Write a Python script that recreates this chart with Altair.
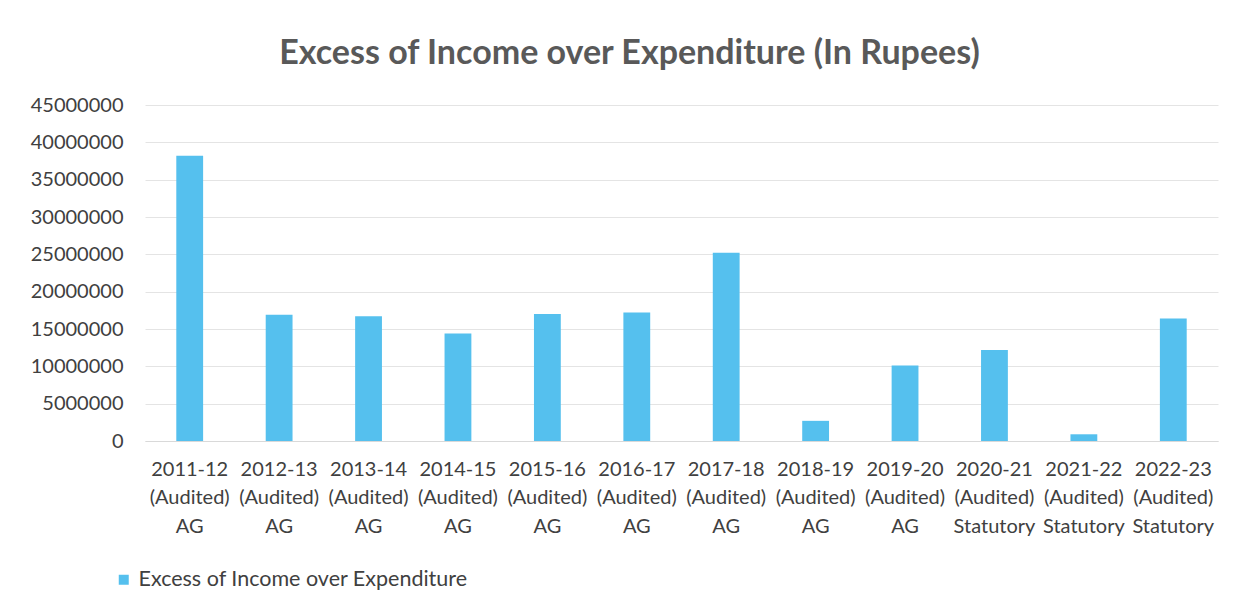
import altair as alt
import pandas as pd

years = ["2011-12", "2012-13", "2013-14", "2014-15", "2015-16", "2016-17",
         "2017-18", "2018-19", "2019-20", "2020-21", "2021-22", "2022-23"]
status = ["(Audited)"] * 12
auditor = ["AG", "AG", "AG", "AG", "AG", "AG", "AG", "AG", "AG",
           "Statutory", "Statutory", "Statutory"]
values = [38200000, 16900000, 16700000, 14400000, 17000000, 17200000,
          25200000, 2700000, 10100000, 12200000, 900000, 16400000]
series_name = "Excess of Income over Expenditure"

df = pd.DataFrame({
    "cat": [f"{y}|{s}|{a}" for y, s, a in zip(years, status, auditor)],
    "value": values,
    "series": [series_name] * len(values),
})

FONT = "Lato"
TEXT = "#404040"

chart = alt.Chart(df).mark_bar(color="#55C0EE").encode(
    x=alt.X("cat:N", sort=None, title=None,
            scale=alt.Scale(paddingInner=0.7, paddingOuter=0.35),
            axis=alt.Axis(labelAngle=0, labelExpr="split(datum.label, '|')",
                          labelFontSize=20, labelFont=FONT, labelColor=TEXT,
                          labelLineHeight=28.5, labelPadding=18, ticks=False,
                          domainColor="#d9d9d9", labelBaseline="top")),
    y=alt.Y("value:Q", title=None,
            scale=alt.Scale(domain=[0, 45000000]),
            axis=alt.Axis(values=list(range(0, 45000001, 5000000)), format="d",
                          labelFontSize=20, labelFont=FONT, labelColor=TEXT,
                          labelPadding=22, ticks=False, domain=False,
                          gridColor="#e4e4e4")),
    fill=alt.Fill("series:N", title=None,
                  scale=alt.Scale(range=["#55C0EE"]),
                  legend=alt.Legend(orient="none", legendX=-32, legendY=464,
                                    labelFont=FONT, labelFontSize=21.5,
                                    labelColor=TEXT, labelLimit=600,
                                    labelOffset=4, symbolType="square",
                                    symbolSize=100, symbolStrokeWidth=0)),
).properties(
    width=1073,
    height=336,
    padding={"left": 137, "top": 97, "right": 10, "bottom": 160},
    autosize=alt.AutoSizeParams(type="none"),
    title=alt.TitleParams("Excess of Income over Expenditure (In Rupees)",
                          font=FONT, fontSize=34, fontWeight="bold",
                          color="#595959", anchor="middle", dx=-52, offset=24),
).configure_view(stroke=None)

chart.save("out.html", embed_options={"renderer": "svg", "actions": False})
